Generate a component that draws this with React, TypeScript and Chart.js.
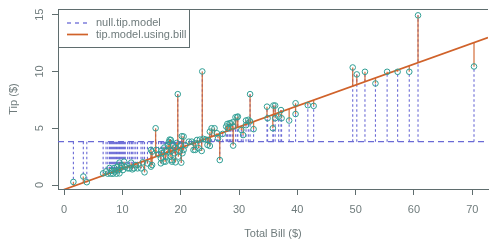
import React, { useEffect, useRef } from "react";
import { Chart, registerables } from "chart.js";

Chart.register(...registerables);

// Observations: total bill ($) and tip ($)
const BILL = [
  1.6, 3.3, 3.9, 6.7,
  7.2, 7.5, 7.8, 8.0, 8.2, 8.4, 8.6, 8.8, 9.0, 9.1, 9.3, 9.5, 9.5, 9.7, 9.9, 10.1,
  10.3, 10.5, 10.9, 11.2, 11.5, 11.7, 12.0, 12.3, 12.6, 13.2, 13.5, 13.8, 14.3, 14.9, 15.1,
  15.1, 14.9, 15.7, 15.8, 16.2, 16.6, 16.6, 16.7, 16.8, 17.1, 17.2, 17.4, 17.5, 17.6, 17.8,
  18.0, 18.1, 18.2, 18.3, 18.4, 18.5, 18.5, 18.7, 18.9, 19.0, 19.1, 19.3, 19.5, 19.6, 19.8,
  20.0, 20.1, 20.2, 20.3, 20.5, 20.5, 20.8, 21.4, 21.9, 22.2, 22.4, 22.5, 22.8, 23.1, 23.3,
  23.6, 23.7, 23.9, 24.3, 24.6, 24.7, 25.0, 25.0, 25.3, 25.8, 26.2, 26.4, 26.7, 27.2, 27.8,
  28.0, 28.1, 28.4, 28.6, 28.9, 29.0, 29.0, 29.4, 29.7, 29.8, 30.4, 30.7, 31.2, 31.2, 31.6,
  31.9, 31.9, 32.5, 34.8, 34.9, 35.8, 35.9, 36.2, 36.2, 36.8, 37.2, 37.3, 38.6, 39.7, 39.7,
  41.8, 42.8, 49.5, 50.2, 51.6, 53.4, 55.4, 57.2, 59.2, 60.7, 70.3,
];
const TIP = [
  0.27, 0.75, 0.25, 1.03,
  1.2, 1.0, 1.5, 1.0, 1.25, 1.0, 1.5, 1.2, 1.0, 1.6, 1.3, 1.03, 1.97, 1.5, 1.75, 1.32,
  2.06, 1.6, 1.47, 1.47, 1.97, 1.38, 1.47, 1.75, 1.47, 1.47, 2.0, 1.12, 1.9, 1.62, 1.76,
  2.94, 3.09, 5.0, 3.09, 2.7, 1.91, 2.36, 3.03, 2.8, 2.06, 3.3, 2.06, 2.5, 3.0, 3.5,
  3.8, 4.0, 2.5, 3.97, 3.0, 2.06, 2.2, 3.5, 2.8, 3.3, 2.0, 3.7, 8.0, 2.5, 3.0,
  3.5, 1.97, 4.3, 2.8, 3.09, 4.27, 3.5, 3.82, 3.82, 3.09, 3.68, 3.09, 3.97, 3.24, 4.0,
  3.0, 10.0, 4.06, 4.0, 3.53, 3.97, 3.44, 4.7, 5.0, 5.0, 4.56, 4.12, 2.2, 4.5, 5.15,
  5.38, 5.0, 5.44, 5.44, 5.53, 3.47, 5.15, 5.97, 5.97, 6.03, 4.85, 4.4, 5.27, 5.68, 5.74,
  8.0, 5.6, 4.92, 6.9, 5.88, 5.0, 7.0, 7.0, 5.88, 6.03, 6.6, 5.88, 5.68, 7.2, 6.25,
  7.03, 6.97, 10.35, 9.74, 9.97, 8.94, 9.97, 9.97, 9.97, 14.94, 10.44,
];

// Fitted models
const NULL_MEAN = 3.82;
const INTERCEPT = -0.4;
const SLOPE = 0.184;

const X_MIN = -1.04;
const X_MAX = 72.7;
const Y_MIN = -0.35;
const Y_MAX = 15.5;
const X_STEP = 10;
const Y_TICKS = [0, 5, 10, 15];

const LEGEND_LABELS = ["null.tip.model", "tip.model.using.bill"];
const X_TITLE = "Total Bill ($)";
const Y_TITLE = "Tip ($)";

const AXIS = "#5f6d6e";
const TEXT = "#6f7b7c";
const BLUE = "#6a6ad6";
const ORANGE = "#d0622a";
const TEAL = "#2f9e94";
const FONT = '"Liberation Sans", Arial, sans-serif';

const overlay = {
  id: "overlay",
  afterDraw(chart: any) {
    const { ctx, chartArea, scales } = chart;
    const y = scales.y;
    ctx.save();
    // top border of box
    ctx.strokeStyle = AXIS;
    ctx.lineWidth = 1;
    ctx.setLineDash([]);
    ctx.beginPath();
    ctx.moveTo(chartArea.left, chartArea.top + 0.5);
    ctx.lineTo(chartArea.right, chartArea.top + 0.5);
    ctx.stroke();

    // y tick labels (rotated, R style)
    ctx.fillStyle = TEXT;
    ctx.font = `11px ${FONT}`;
    ctx.textAlign = "center";
    ctx.textBaseline = "middle";
    for (const t of Y_TICKS) {
      const py = y.getPixelForValue(t);
      ctx.save();
      ctx.translate(40, py);
      ctx.rotate(-Math.PI / 2);
      ctx.fillText(String(t), 0, 0);
      ctx.restore();
    }
    // y title
    ctx.save();
    ctx.translate(14, (chartArea.top + chartArea.bottom) / 2);
    ctx.rotate(-Math.PI / 2);
    ctx.fillText(Y_TITLE, 0, 0);
    ctx.restore();

    // legend
    const lx = chartArea.left;
    const ly = chartArea.top;
    ctx.fillStyle = "#ffffff";
    ctx.fillRect(lx, ly, 131, 38);
    ctx.strokeStyle = AXIS;
    ctx.lineWidth = 1;
    ctx.strokeRect(lx + 0.5, ly + 0.5, 131, 38);

    ctx.lineWidth = 1.3;
    ctx.strokeStyle = BLUE;
    ctx.setLineDash([4, 4]);
    ctx.beginPath();
    ctx.moveTo(lx + 9, ly + 14);
    ctx.lineTo(lx + 30, ly + 14);
    ctx.stroke();
    ctx.setLineDash([]);
    ctx.strokeStyle = ORANGE;
    ctx.lineWidth = 1.7;
    ctx.beginPath();
    ctx.moveTo(lx + 9, ly + 25.5);
    ctx.lineTo(lx + 30, ly + 25.5);
    ctx.stroke();

    ctx.fillStyle = TEXT;
    ctx.textAlign = "left";
    ctx.textBaseline = "middle";
    ctx.fillText(LEGEND_LABELS[0], lx + 38, ly + 14);
    ctx.fillText(LEGEND_LABELS[1], lx + 38, ly + 25.5);
    ctx.restore();
  },
};

export default function App() {
  const ref = useRef<HTMLCanvasElement | null>(null);

  useEffect(() => {
    document.body.style.margin = "0";
    const canvas = ref.current;
    if (!canvas) return;

    const nullSegs: any[] = [];
    const modelSegs: any[] = [];
    const pts: any[] = [];
    for (let i = 0; i < BILL.length; i++) {
      const x = BILL[i];
      const t = TIP[i];
      nullSegs.push({ x, y: NULL_MEAN }, { x, y: t }, { x, y: null });
      modelSegs.push({ x, y: INTERCEPT + SLOPE * x }, { x, y: t }, { x, y: null });
      pts.push({ x, y: t });
    }

    const chart = new Chart(canvas, {
      type: "scatter",
      data: {
        datasets: [
          {
            type: "line",
            label: LEGEND_LABELS[0] + " residuals",
            data: nullSegs,
            borderColor: BLUE,
            borderWidth: 1.1,
            borderDash: [2.5, 2.5],
            pointRadius: 0,
            spanGaps: false,
            order: 5,
          } as any,
          {
            type: "line",
            label: LEGEND_LABELS[0],
            data: [
              { x: X_MIN, y: NULL_MEAN },
              { x: X_MAX, y: NULL_MEAN },
            ],
            borderColor: BLUE,
            borderWidth: 1.4,
            borderDash: [6, 4],
            pointRadius: 0,
            order: 4,
          } as any,
          {
            type: "line",
            label: LEGEND_LABELS[1] + " residuals",
            data: modelSegs,
            borderColor: "rgba(208,98,42,0.85)",
            borderWidth: 1.3,
            pointRadius: 0,
            spanGaps: false,
            order: 3,
          } as any,
          {
            type: "line",
            label: LEGEND_LABELS[1],
            data: [
              { x: X_MIN, y: INTERCEPT + SLOPE * X_MIN },
              { x: X_MAX, y: INTERCEPT + SLOPE * X_MAX },
            ],
            borderColor: ORANGE,
            borderWidth: 1.7,
            pointRadius: 0,
            order: 2,
          } as any,
          {
            type: "scatter",
            label: "observations",
            data: pts,
            pointRadius: 2.8,
            pointBorderWidth: 1,
            pointBorderColor: TEAL,
            pointBackgroundColor: "rgba(0,0,0,0)",
            borderColor: TEAL,
            backgroundColor: "rgba(0,0,0,0)",
            order: 1,
          } as any,
        ],
      },
      options: {
        animation: false,
        responsive: true,
        maintainAspectRatio: false,
        layout: { padding: { top: 9, left: 0, right: 0, bottom: 0 } },
        plugins: {
          legend: { display: false },
          tooltip: { enabled: false },
        },
        scales: {
          x: {
            type: "linear",
            min: X_MIN,
            max: X_MAX,
            afterFit: (s: any) => {
              s.height = 53;
            },
            ticks: {
              stepSize: X_STEP,
              includeBounds: false,
              maxRotation: 0,
              color: TEXT,
              padding: 8,
              font: { family: FONT, size: 11 },
            },
            grid: {
              drawOnChartArea: false,
              drawTicks: true,
              tickLength: 6,
              color: AXIS,
            },
            border: { display: true, color: AXIS, width: 1 },
            title: {
              display: true,
              text: X_TITLE,
              color: TEXT,
              font: { family: FONT, size: 11 },
              padding: { top: 0, bottom: 1 },
            },
          },
          y: {
            type: "linear",
            min: Y_MIN,
            max: Y_MAX,
            afterFit: (s: any) => {
              s.width = 58;
            },
            afterBuildTicks: (s: any) => {
              s.ticks = Y_TICKS.map((v) => ({ value: v }));
            },
            ticks: { display: false },
            grid: {
              drawOnChartArea: false,
              drawTicks: true,
              tickLength: 6,
              color: AXIS,
            },
            border: { display: true, color: AXIS, width: 1 },
          },
        },
      },
      plugins: [overlay],
    });
    return () => chart.destroy();
  }, []);

  return (
    <div style={{ width: 493, height: 242, position: "relative" }}>
      <canvas ref={ref} />
    </div>
  );
}
